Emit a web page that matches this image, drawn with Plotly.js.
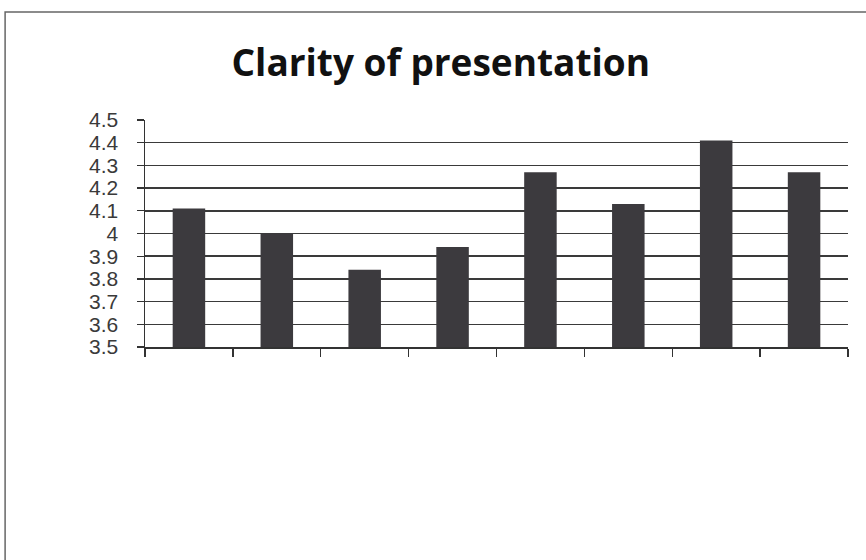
<!DOCTYPE html>
<html>
<head>
<meta charset="utf-8">
<script src="https://cdn.plot.ly/plotly-3.0.1.min.js"></script>
<style>html,body{margin:0;padding:0;background:#fff;}#chart{width:866px;height:560px;}</style>
</head>
<body>
<div id="chart"></div>
<script>
const categories = ["1", "2", "3", "4", "5", "6", "7", "8"];
const values = [4.11, 4.0, 3.84, 3.94, 4.27, 4.13, 4.41, 4.27];
const yTicks = [3.5, 3.6, 3.7, 3.8, 3.9, 4.0, 4.1, 4.2, 4.3, 4.4, 4.5];
const yTickLabels = ["3.5", "3.6", "3.7", "3.8", "3.9", "4", "4.1", "4.2", "4.3", "4.4", "4.5"];

const trace = {
  type: "bar",
  x: categories,
  y: values,
  width: 0.37,
  marker: {color: "#3c3a3e", line: {width: 0}},
  hoverinfo: "y"
};

const layout = {
  width: 866,
  height: 560,
  margin: {l: 145, r: 18, t: 120, b: 213},
  paper_bgcolor: "#ffffff",
  plot_bgcolor: "#ffffff",
  showlegend: false,
  title: {
    text: "<b>Clarity of presentation</b>",
    x: 0.509, xanchor: "center",
    y: 0.888, yanchor: "middle",
    font: {family: "Open Sans, Liberation Sans, sans-serif", size: 37, color: "#111111"}
  },
  xaxis: {
    type: "category",
    showticklabels: false,
    tickson: "boundaries",
    ticks: "outside",
    ticklen: 8,
    tickcolor: "#333",
    tickwidth: 1.3,
    showline: true,
    linecolor: "#333",
    linewidth: 1.5,
    showgrid: false,
    zeroline: false,
    range: [-0.5, 7.5]
  },
  yaxis: {
    range: [3.5, 4.5],
    tickvals: yTicks,
    ticktext: yTickLabels,
    ticks: "outside",
    ticklen: 7,
    tickcolor: "#333",
    tickwidth: 1.3,
    ticklabelstandoff: 14,
    showline: true,
    linecolor: "#333",
    linewidth: 1.5,
    showgrid: true,
    gridcolor: "#3a3a3a",
    gridwidth: 1.5,
    zeroline: false,
    tickfont: {family: "Liberation Sans, Arial, sans-serif", size: 21, color: "#3a3a3a"}
  },
  shapes: [{
    type: "rect", xref: "paper", yref: "paper",
    x0: -0.199, x1: 1.1, y0: -1.0, y1: 1.4758,
    line: {color: "#666", width: 1.5}, fillcolor: "rgba(0,0,0,0)"
  }]
};

Plotly.newPlot("chart", [trace], layout, {displayModeBar: false, staticPlot: true});
</script>
</body>
</html>
